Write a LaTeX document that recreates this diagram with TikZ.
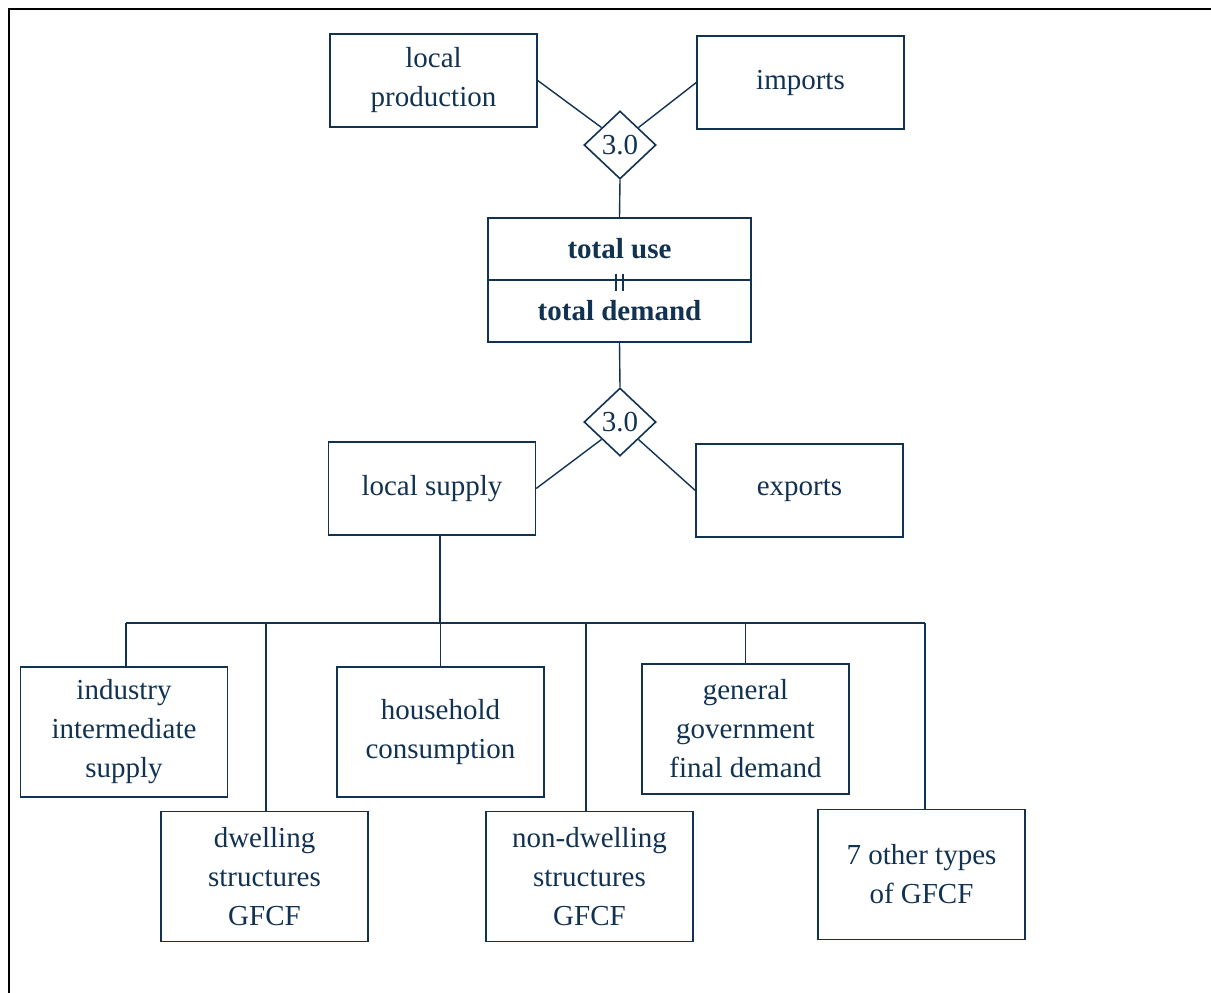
\documentclass[tikz,border=0pt]{standalone}
\usepackage{fontspec}
\setmainfont{Liberation Serif}
\usetikzlibrary{shapes.geometric}
\definecolor{navy}{RGB}{18,50,82}
\tikzset{
  box/.style={draw=navy, line width=1.4pt, text=navy, minimum width=207pt, minimum height=93pt, align=center, inner sep=0pt, font=\fontsize{29}{39}\selectfont},
  tallbox/.style={box, minimum height=130pt},
  halfbox/.style={box, minimum width=263pt, minimum height=62pt, font=\fontsize{29}{39}\selectfont\bfseries},
  sumnode/.style={draw=navy, diamond, line width=1.6pt, text=navy, minimum width=72pt, minimum height=68pt, inner sep=0pt, font=\fontsize{29}{34}\selectfont},
  link/.style={navy, line width=1.4pt}
}
\begin{document}
\begin{tikzpicture}[x=1pt, y=-1pt]
  \useasboundingbox (0,0) rectangle (1211,993);
  % outer frame (cut at the page edge)
  \draw[line width=2pt] (9,993) -- (9,9) -- (1211,9);
  % supply side
  \node[box] (lprod) at (433.5,80.5) {local\\production};
  \node[box] (imp) at (800.5,82.5) {imports};
  \node[sumnode] (sum1) at (620,145) {3.0};
  \node[halfbox] (tuse) at (619.5,249) {total use};
  \node[halfbox] (tdem) at (619.5,311) {total demand};
  \draw[link] ([xshift=-3.5pt]tuse.south) ++(0,-7) -- ++(0,17);
  \draw[link] ([xshift=3.5pt]tuse.south) ++(0,-7) -- ++(0,17);
  \node[sumnode] (sum2) at (620,422) {3.0};
  \node[box] (lsup) at (432,488.5) {local supply};
  \node[box] (exp) at (799.5,490.5) {exports};
  \draw[link] (lprod.east) -- (sum1.north west);
  \draw[link] (imp.west) -- (sum1.north east);
  \draw[link] (sum1.south) -- (tuse.north);
  \draw[link] (tdem.south) -- (sum2.north);
  \draw[link] (sum2.south west) -- (lsup.east);
  \draw[link] (sum2.south east) -- (exp.west);
  % demand categories
  \node[tallbox] (ind) at (124,732) {industry\\intermediate\\supply};
  \node[tallbox] (hh) at (440.5,732) {household\\consumption};
  \node[tallbox] (gov) at (745.5,729) {general\\government\\final demand};
  \node[tallbox] (dwel) at (264.5,876.5) {dwelling\\structures\\GFCF};
  \node[tallbox] (ndwel) at (589.5,876.5) {non-dwelling\\structures\\GFCF};
  \node[tallbox] (oth) at (921.5,874.5) {7 other types\\of GFCF};
  \coordinate (bus) at (440,623);
  \draw[link] (lsup.south -| bus) -- (bus);
  \draw[link] ([xshift=2pt]ind.north |- bus) -- ([xshift=3.5pt]oth.north |- bus);
  \draw[link] ([xshift=2pt]ind.north |- bus) -- ([xshift=2pt]ind.north);
  \draw[link] (hh.north |- bus) -- (hh.north);
  \draw[link] (gov.north |- bus) -- (gov.north);
  \draw[link] ([xshift=1.5pt]dwel.north |- bus) -- ([xshift=1.5pt]dwel.north);
  \draw[link] ([xshift=-3.5pt]ndwel.north |- bus) -- ([xshift=-3.5pt]ndwel.north);
  \draw[link] ([xshift=3.5pt]oth.north |- bus) -- ([xshift=3.5pt]oth.north);
\end{tikzpicture}
\end{document}
